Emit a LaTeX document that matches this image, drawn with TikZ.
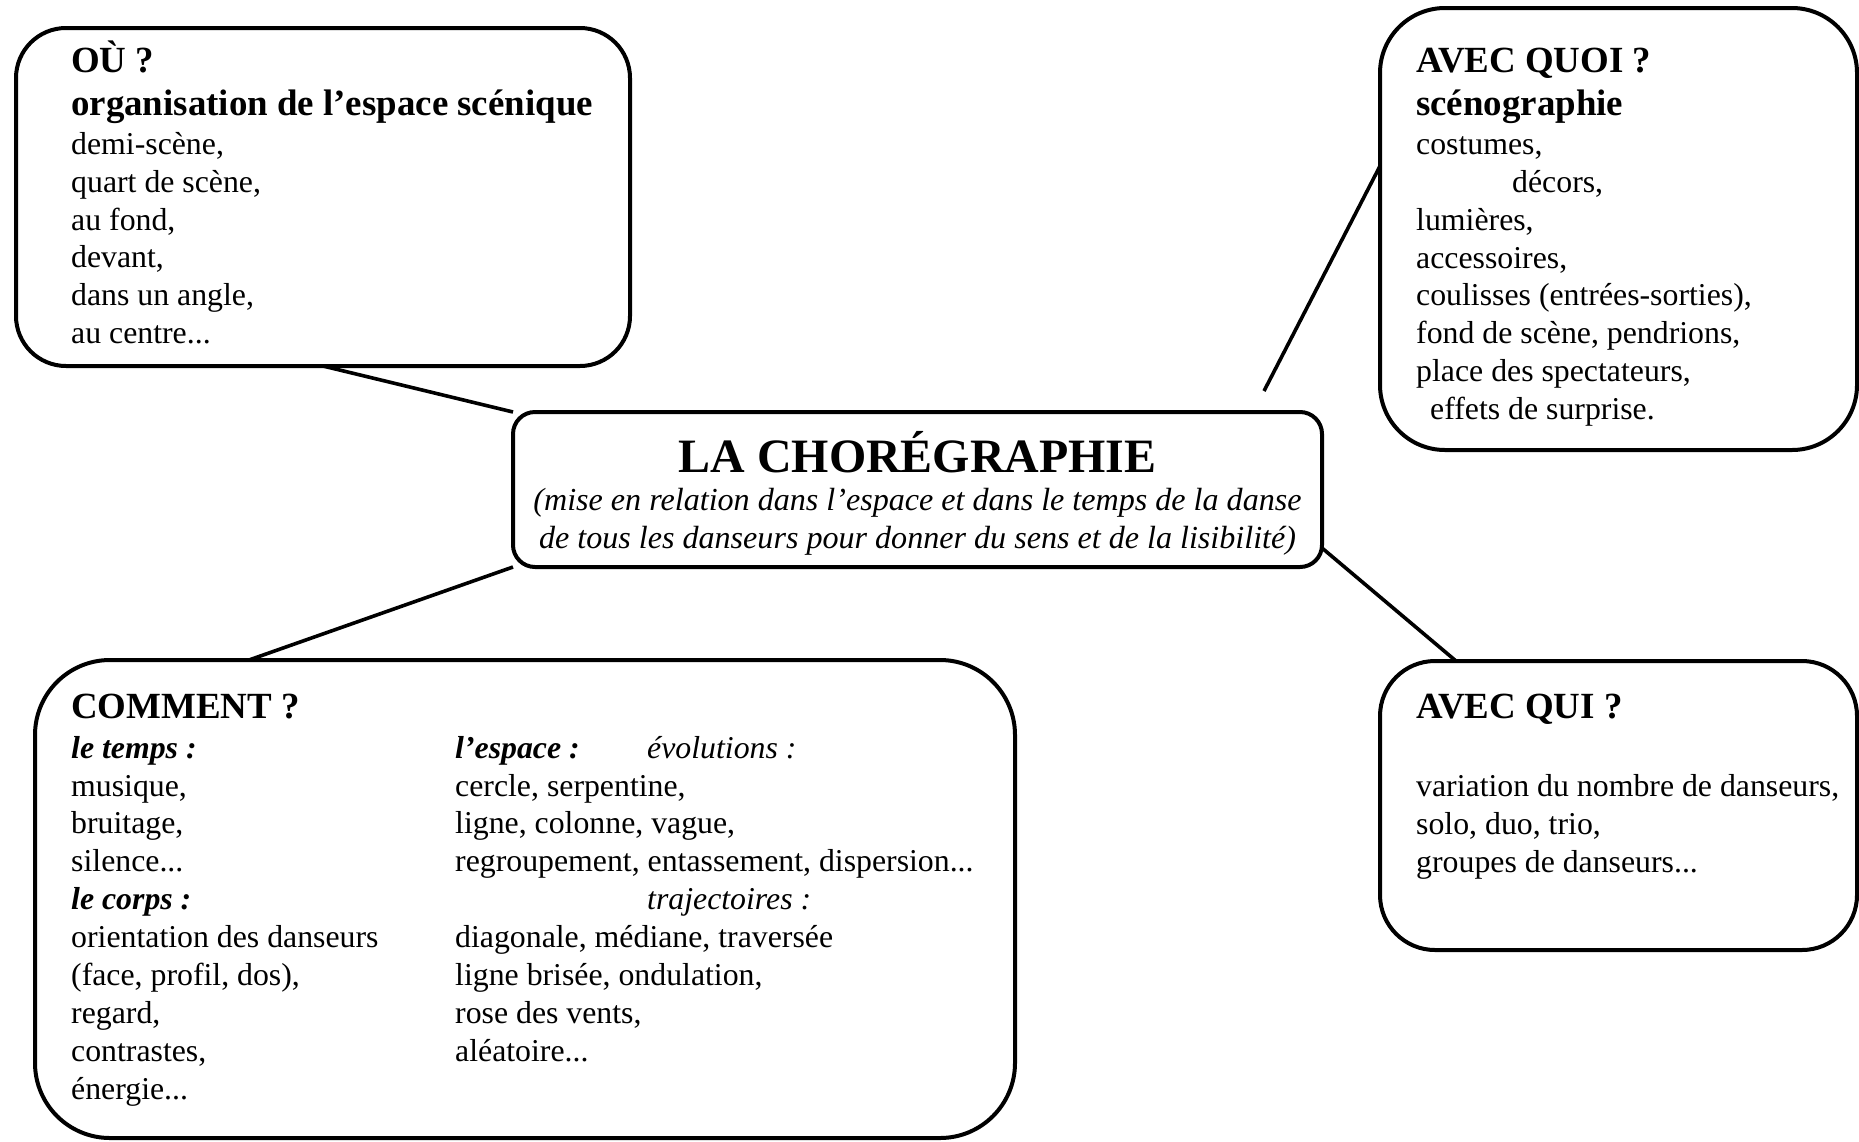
\documentclass[tikz,border=0pt]{standalone}
\usepackage{fontspec}
\setmainfont{Liberation Serif}
\usetikzlibrary{calc}
\newcommand{\bodyf}{\fontsize{31.8}{38}\selectfont}
\newcommand{\italf}{\fontsize{32.1}{38}\selectfont}
\newcommand{\headf}{\fontsize{36.9}{44}\selectfont\bfseries}
\newcommand{\titlef}{\fontsize{47.9}{56}\selectfont\bfseries}
\tikzset{
  box/.style={draw, line width=4pt, inner sep=0pt, outer sep=0pt},
  link/.style={line width=3.6pt},
  tx/.style={anchor=base west, inner sep=0pt, font=\bodyf},
  hd/.style={anchor=base west, inner sep=0pt, font=\headf},
  bi/.style={anchor=base west, inner sep=0pt, font=\bodyf\bfseries\itshape},
  it/.style={anchor=base west, inner sep=0pt, font=\bodyf\itshape},
  ctx/.style={anchor=base, inner sep=0pt, font=\italf\itshape},
}
\begin{document}
\begin{tikzpicture}[x=1pt,y=-1pt]
\useasboundingbox (0,0) rectangle (1859,1141);
% boxes
\node[box, rounded corners=50pt, minimum width=614pt, minimum height=338pt] (ou) at (323,197) {};
\node[box, rounded corners=65pt, minimum width=477pt, minimum height=442pt] (quoi) at (1618.5,229) {};
\node[box, rounded corners=22pt, minimum width=809pt, minimum height=155pt] (chore) at (917.5,489.5) {};
\node[box, rounded corners=75pt, minimum width=980pt, minimum height=478pt] (comment) at (525,899) {};
\node[box, rounded corners=55pt, minimum width=477pt, minimum height=289pt] (qui) at (1618.5,805.5) {};
% connectors
\coordinate (qend) at (1264,391);
\draw[link] (ou.south) -- (chore.north west);
\draw[link] ($(quoi.west)+(0,-63)$) -- (qend);
\draw[link] ($(comment.north west)+(214,0)$) -- (chore.south west);
\draw[link] ($(qui.north west)+(76,0)$) -- ($(chore.south east)+(0,-19)$);
% OU
\node[hd] (ou1) at (71,72) {OÙ ?};
\node[hd] (ou2) at (71,115) {organisation de l’espace scénique};
\node[tx] (ou3) at (71,154) {demi-scène,};
\node[tx] (ou4) at (71,192) {quart de scène,};
\node[tx] (ou5) at (71,230) {au fond,};
\node[tx] (ou6) at (71,267) {devant,};
\node[tx] (ou7) at (71,305) {dans un angle,};
\node[tx] (ou8) at (71,343) {au centre...};
% AVEC QUOI
\node[hd] (q1) at (1416,72) {AVEC QUOI ?};
\node[hd] (q2) at (1416,115) {scénographie};
\node[tx] (q3) at (1416,154) {costumes,};
\node[tx] (q4) at (1512,192) {décors,};
\node[tx] (q5) at (1416,230) {lumières,};
\node[tx] (q6) at (1416,268) {accessoires,};
\node[tx] (q7) at (1416,305) {coulisses (entrées-sorties),};
\node[tx] (q8) at (1416,343) {fond de scène, pendrions,};
\node[tx] (q9) at (1416,381) {place des spectateurs,};
\node[tx] (q10) at (1430,419) {effets de surprise.};
% center
\node[anchor=base, inner sep=0pt, font=\titlef] (c1) at (917.5,472) {LA CHORÉGRAPHIE};
\node[ctx] (c2) at (917.5,510) {(mise en relation dans l’espace et dans le temps de la danse};
\node[ctx] (c3) at (917.5,548) {de tous les danseurs pour donner du sens et de la lisibilité)};
% COMMENT
\node[hd] (m0) at (71,718) {COMMENT ?};
\node[bi] (m1) at (71,758) {le temps :};
\node[tx] (m2) at (71,796) {musique,};
\node[tx] (m3) at (71,833) {bruitage,};
\node[tx] (m4) at (71,871) {silence...};
\node[bi] (m5) at (71,909) {le corps :};
\node[tx] (m6) at (71,947) {orientation des danseurs};
\node[tx] (m7) at (71,985) {(face, profil, dos),};
\node[tx] (m8) at (71,1023) {regard,};
\node[tx] (m9) at (71,1061) {contrastes,};
\node[tx] (m10) at (71,1099) {énergie...};
\node[bi] (n1) at (455,758) {l’espace :};
\node[it] (n1b) at (647,758) {évolutions :};
\node[tx] (n2) at (455,796) {cercle, serpentine,};
\node[tx] (n3) at (455,833) {ligne, colonne, vague,};
\node[tx] (n4) at (455,871) {regroupement, entassement, dispersion...};
\node[it] (n5) at (647,909) {trajectoires :};
\node[tx] (n6) at (455,947) {diagonale, médiane, traversée};
\node[tx] (n7) at (455,985) {ligne brisée, ondulation,};
\node[tx] (n8) at (455,1023) {rose des vents,};
\node[tx] (n9) at (455,1061) {aléatoire...};
% AVEC QUI
\node[hd] (w1) at (1416,718) {AVEC QUI ?};
\node[tx] (w2) at (1416,796) {variation du nombre de danseurs,};
\node[tx] (w3) at (1416,834) {solo, duo, trio,};
\node[tx] (w4) at (1416,872) {groupes de danseurs...};
\end{tikzpicture}
\end{document}
